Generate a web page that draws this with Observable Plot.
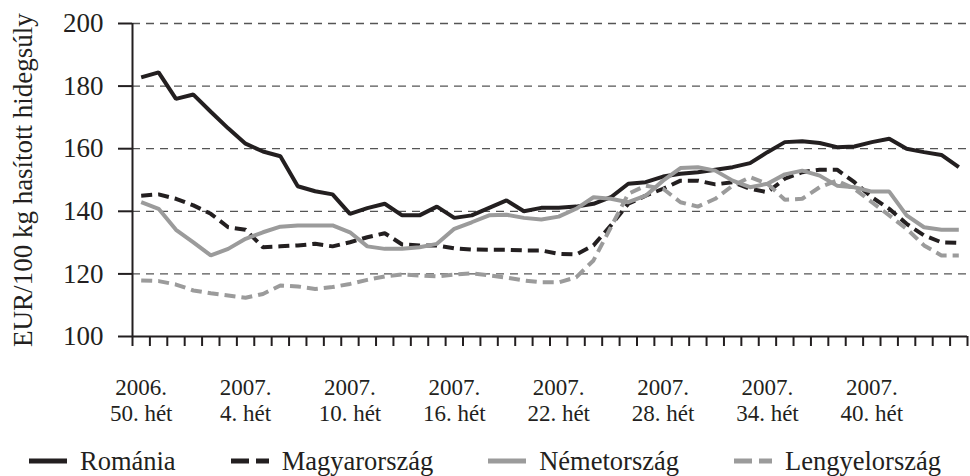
<!DOCTYPE html>
<html>
<head>
<meta charset="utf-8">
<script src="https://cdn.jsdelivr.net/npm/d3@7"></script>
<script src="https://cdn.jsdelivr.net/npm/@observablehq/plot@0.6"></script>
<style>
  body { margin: 0; background: #fff; font-family: "Liberation Serif", "DejaVu Serif", serif; }
  #wrap { position: relative; width: 970px; height: 476px; overflow: hidden; }
  #legend { position: absolute; top: 446px; left: 0; width: 970px; display: flex; justify-content: center; }
  .leg { font-size: 26.5px; line-height: 30px; color: #231f20; display: flex; align-items: center; white-space: nowrap; margin: 0 27.5px; }
  .leg svg { margin-right: 13px; }
</style>
</head>
<body>
<div id="wrap"><div id="chart"></div><div id="legend"></div></div>
<script>
// Series names
const series = ["Románia", "Magyarország", "Németország", "Lengyelország"];
// 48 weeks: 2006 week 50 – 2007 week 45 (index 0..47)
const romania = [182.8,184.4,175.9,177.3,171.8,166.5,161.6,159.1,157.6,148.0,146.4,145.4,139.2,141.0,142.4,138.7,
  138.7,141.5,137.9,138.7,141.1,143.5,140.0,141.1,141.1,141.5,142.4,144.5,148.8,149.3,151.1,152.0,
  152.5,153.3,154.1,155.4,158.9,162.1,162.4,161.8,160.5,160.7,162.1,163.2,160.0,158.9,158.0,154.1];
const magyar = [145.0,145.4,144.0,141.9,139.2,134.9,134.1,128.5,128.8,129.1,129.6,128.8,130.1,131.7,133.0,129.4,
  129.1,129.1,128.2,127.8,127.7,127.7,127.5,127.5,126.4,126.2,129.1,135.5,142.4,145.0,147.2,149.8,
  149.8,148.6,149.3,147.2,146.1,150.4,152.5,153.3,153.3,149.3,144.5,140.8,136.0,132.3,130.1,129.9];
const nemet = [142.9,140.8,134.1,130.1,125.9,128.0,131.2,133.3,135.1,135.5,135.5,135.5,133.3,128.8,128.0,128.0,
  128.5,129.6,134.4,136.5,138.7,138.9,137.9,137.4,138.3,140.8,144.5,144.0,142.9,145.0,149.8,153.8,
  154.1,153.0,149.8,147.7,148.8,151.8,153.0,151.4,148.2,147.7,146.3,146.3,138.7,134.9,134.1,134.1];
const lengyel = [117.9,117.7,116.6,114.7,113.8,113.1,112.4,113.6,116.3,116.0,115.2,115.8,116.8,118.1,119.2,119.8,
  119.5,119.2,119.8,120.2,119.5,118.8,117.9,117.3,117.3,118.9,124.3,134.9,145.6,148.2,147.2,142.9,
  141.5,144.0,148.2,150.9,148.8,143.7,144.0,147.7,149.8,147.2,142.9,138.7,134.4,129.1,125.9,125.9];
// Tick labels (every 6th week)
const tickIdx = [0, 6, 12, 18, 24, 30, 36, 42];
const tickLabels = ["2006.\n50. hét", "2007.\n4. hét", "2007.\n10. hét", "2007.\n16. hét",
  "2007.\n22. hét", "2007.\n28. hét", "2007.\n34. hét", "2007.\n40. hét"];
const yTicks = [100, 120, 140, 160, 180, 200];
const yLabel = "EUR/100 kg hasított hidegsúly";

const styles = [
  {stroke: "#231f20", dash: null, leg: null},
  {stroke: "#231f20", dash: "11,6", leg: "18,7"},
  {stroke: "#9b9b9b", dash: null, leg: null},
  {stroke: "#9b9b9b", dash: "11,6", leg: "18,7"}
];
const values = [romania, magyar, nemet, lengyel];
const rows = values.map((arr, k) => arr.map((v, i) => ({i, v, s: series[k]})));

const n = romania.length;
const chart = Plot.plot({
  width: 970,
  height: 440,
  marginLeft: 132,
  marginRight: 3,
  marginTop: 23,
  marginBottom: 104,
  style: {fontFamily: "Liberation Serif, serif", fontSize: "26px", color: "#231f20", background: "#fff"},
  x: {type: "linear", domain: [-0.5, n - 0.5]},
  y: {domain: [100, 200]},
  marks: [
    Plot.ruleY(yTicks.slice(1), {stroke: "#555", strokeDasharray: "8,6", strokeWidth: 1.3}),
    Plot.axisY({ticks: yTicks, tickSize: 14, tickPadding: 15, strokeWidth: 2, fontSize: 27, stroke: "#231f20",
      label: yLabel, labelAnchor: "center", labelArrow: "none", labelOffset: 120}),
    Plot.axisX({ticks: d3.range(-0.5, n + 0.5, 1), tickSize: 10, tickFormat: () => "", strokeWidth: 2, stroke: "#231f20", label: null}),
    Plot.axisX({ticks: tickIdx, tickSize: 0, tickPadding: 40, tickFormat: (d) => tickLabels[tickIdx.indexOf(d)],
      lineHeight: 1.12, fontSize: 23, label: null}),
    Plot.ruleX([-0.5], {y1: 100, y2: 200, stroke: "#231f20", strokeWidth: 2}),
    Plot.ruleY([100], {stroke: "#231f20", strokeWidth: 2}),
    ...rows.map((r, k) => Plot.line(r, {x: "i", y: "v", stroke: styles[k].stroke, strokeWidth: 4,
      strokeDasharray: styles[k].dash, strokeLinejoin: "miter", strokeLinecap: "butt"}))
  ]
});
document.getElementById("chart").appendChild(chart);

// Legend
const legend = document.getElementById("legend");
series.forEach((name, k) => {
  const div = document.createElement("div");
  div.className = "leg";
  const w = 38;
  div.innerHTML = `<svg width="${w}" height="10"><line x1="0" x2="${w}" y1="5" y2="5" stroke="${styles[k].stroke}" stroke-width="5" ${styles[k].leg ? `stroke-dasharray="${styles[k].leg}"` : ''}/></svg><span>${name}</span>`;
  legend.appendChild(div);
});
</script>
</body>
</html>
